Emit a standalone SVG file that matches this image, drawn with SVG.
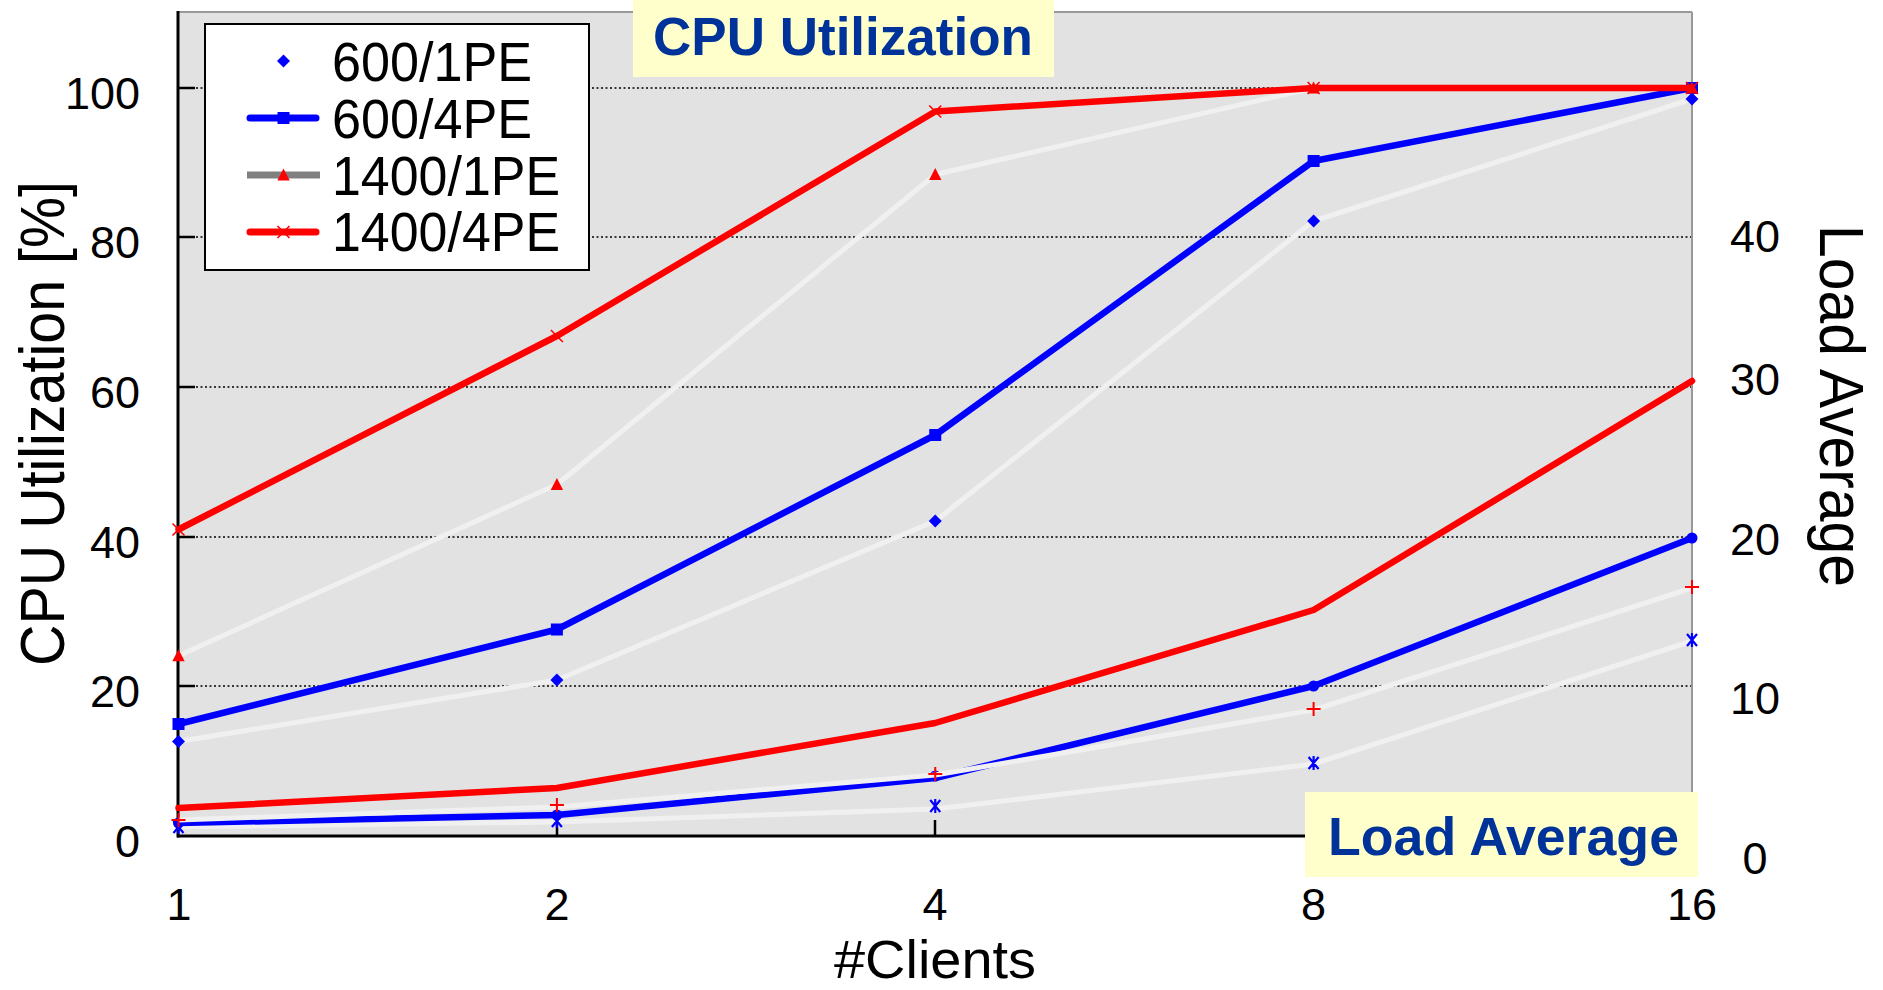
<svg xmlns="http://www.w3.org/2000/svg" width="1883" height="990" viewBox="0 0 1883 990">
  <style>
    .grid { stroke: #000; stroke-width: 1.5; stroke-dasharray: 2 2.5; fill: none; }
    .tick { stroke: #000; stroke-width: 2.5; }
    .light { fill: none; stroke: #f0f0f0; stroke-width: 5; stroke-linejoin: round; }
    .blue { fill: none; stroke: #0000ff; stroke-width: 6.5; stroke-linejoin: round; stroke-linecap: round; }
    .red { fill: none; stroke: #ff0000; stroke-width: 6.5; stroke-linejoin: round; stroke-linecap: round; }
    .num { font-family: "Liberation Sans", Arial, sans-serif; font-size: 45px; fill: #000; }
    .axt { font-family: "Liberation Sans", Arial, sans-serif; fill: #000; }
    .leg { font-family: "Liberation Sans", Arial, sans-serif; font-size: 55px; fill: #000; }
    .ttl { font-family: "Liberation Sans", Arial, sans-serif; font-size: 53px; font-weight: bold; fill: #003399; }
    .tbox { fill: #ffffcc; }
  </style>
  <defs>
    <path id="diamond" d="M0,-6.5 L6.5,0 L0,6.5 L-6.5,0 Z" fill="#0000ff"/>
    <rect id="square" x="-6" y="-6" width="12" height="12" fill="#0000ff"/>
    <path id="tri" d="M0,-6.5 L6.2,5.5 L-6.2,5.5 Z" fill="#ff0000"/>
    <path id="xthin" d="M-6,-6 L6,6 M6,-6 L-6,6" stroke="#ff0000" stroke-width="1.6" fill="none"/>
    <path id="plus" d="M-7,0 H7 M0,-7 V7" stroke="#ff0000" stroke-width="2" fill="none"/>
    <path id="astx" d="M-5,-6 L5,6 M5,-6 L-5,6 M0,-7 V-2 M0,2 V7" stroke="#0000ff" stroke-width="2.2" fill="none"/>
    <circle id="dot" r="5.5" fill="#0000ff"/>
  </defs>

  <rect width="1883" height="990" fill="#ffffff"/>

  <!-- plot area -->
  <g id="plot-area">
    <rect x="178" y="12" width="1514" height="824" fill="#e2e2e2"/>
    <g id="gridlines">
      <line class="grid" x1="178" y1="88" x2="1692" y2="88"/>
      <line class="grid" x1="178" y1="237" x2="1692" y2="237"/>
      <line class="grid" x1="178" y1="387" x2="1692" y2="387"/>
      <line class="grid" x1="178" y1="537" x2="1692" y2="537"/>
      <line class="grid" x1="178" y1="686" x2="1692" y2="686"/>
    </g>
    <g id="axes">
      <line x1="178" y1="12" x2="1692" y2="12" stroke="#999" stroke-width="2"/>
      <line x1="1692" y1="12" x2="1692" y2="836" stroke="#999" stroke-width="2"/>
      <line x1="178" y1="11" x2="178" y2="837.5" stroke="#000" stroke-width="3"/>
      <line x1="177" y1="836" x2="1692" y2="836" stroke="#000" stroke-width="3"/>
      <line class="tick" x1="178" y1="88" x2="195" y2="88"/>
      <line class="tick" x1="178" y1="237" x2="195" y2="237"/>
      <line class="tick" x1="178" y1="387" x2="195" y2="387"/>
      <line class="tick" x1="178" y1="537" x2="195" y2="537"/>
      <line class="tick" x1="178" y1="686" x2="195" y2="686"/>
      <line class="tick" x1="557" y1="820" x2="557" y2="836"/>
      <line class="tick" x1="935" y1="820" x2="935" y2="836"/>
      <line class="tick" x1="1313.6" y1="820" x2="1313.6" y2="836"/>
    </g>
  </g>

  <!-- series: CPU utilization -->
  <g id="connectors">
    <g id="cpu-600-1pe">
      <polyline class="light" points="178.5,741.5 556.9,680 935.25,521 1313.6,221 1692,99"/>
      <use href="#diamond" x="178.5" y="741.5"/>
      <use href="#diamond" x="556.9" y="680"/>
      <use href="#diamond" x="935.25" y="521"/>
      <use href="#diamond" x="1313.6" y="221"/>
      <use href="#diamond" x="1692" y="99"/>
    </g>
    <g id="cpu-600-4pe">
      <polyline class="blue" points="178.5,724 556.9,629.5 935.25,435 1313.6,161 1692,88"/>
      <use href="#square" x="178.5" y="724"/>
      <use href="#square" x="556.9" y="629.5"/>
      <use href="#square" x="935.25" y="435"/>
      <use href="#square" x="1313.6" y="161"/>
      <use href="#square" x="1692" y="88"/>
    </g>
    <g id="cpu-1400-1pe">
      <polyline class="light" points="178.5,655.7 556.9,484.5 935.25,174.5 1313.6,88 1692,88"/>
      <use href="#tri" x="178.5" y="655.7"/>
      <use href="#tri" x="556.9" y="484.5"/>
      <use href="#tri" x="935.25" y="174.5"/>
      <use href="#tri" x="1313.6" y="88"/>
      <use href="#tri" x="1692" y="88"/>
    </g>
    <g id="cpu-1400-4pe">
      <polyline class="red" points="178.5,529.5 556.9,336 935.25,111.5 1313.6,88 1692,88"/>
      <use href="#xthin" x="178.5" y="529.5"/>
      <use href="#xthin" x="556.9" y="336"/>
      <use href="#xthin" x="935.25" y="111.5"/>
      <use href="#xthin" x="1313.6" y="88"/>
      <use href="#xthin" x="1692" y="88"/>
    </g>

    <!-- series: load average -->
    <g id="load-600-1pe">
      <polyline class="light" points="178.5,827 556.9,822 935.25,809 1313.6,764 1692,641"/>
      <use href="#astx" x="178.5" y="827"/>
      <use href="#astx" x="556.9" y="821"/>
      <use href="#astx" x="935.25" y="806"/>
      <use href="#astx" x="1313.6" y="763"/>
      <use href="#astx" x="1692" y="640"/>
    </g>
    <g id="load-600-4pe">
      <polyline class="blue" points="178.5,823 556.9,815 935.25,778 1313.6,686 1692,538"/>
      <use href="#dot" x="178.5" y="823"/>
      <use href="#dot" x="556.9" y="815"/>
      <use href="#dot" x="935.25" y="776"/>
      <use href="#dot" x="1313.6" y="686"/>
      <use href="#dot" x="1692" y="538"/>
    </g>
    <g id="load-1400-1pe">
      <polyline class="light" points="178.5,820 556.9,807 935.25,775 1313.6,710 1692,588"/>
      <use href="#plus" x="178.5" y="820"/>
      <use href="#plus" x="556.9" y="805"/>
      <use href="#plus" x="935.25" y="774"/>
      <use href="#plus" x="1313.6" y="709"/>
      <use href="#plus" x="1692" y="587"/>
    </g>
    <g id="load-1400-4pe">
      <polyline class="red" points="178.5,808 556.9,788 935.25,723 1313.6,610 1692,381"/>
    </g>
  </g>

  <!-- legend -->
  <g id="legend">
    <rect x="205" y="24" width="384" height="246" fill="#ffffff" stroke="#000" stroke-width="2"/>
    <use href="#diamond" x="283.5" y="61"/>
    <line x1="250" y1="118" x2="316" y2="118" stroke="#0000ff" stroke-width="7" stroke-linecap="round"/>
    <use href="#square" x="283.5" y="118"/>
    <line x1="247" y1="175" x2="320" y2="175" stroke="#808080" stroke-width="7"/>
    <use href="#tri" x="283.5" y="175"/>
    <line x1="250" y1="232" x2="316" y2="232" stroke="#ff0000" stroke-width="7" stroke-linecap="round"/>
    <use href="#xthin" x="283.5" y="232"/>
    <text class="leg" x="332" y="81" textLength="200" lengthAdjust="spacingAndGlyphs">600/1PE</text>
    <text class="leg" x="332" y="138" textLength="200" lengthAdjust="spacingAndGlyphs">600/4PE</text>
    <text class="leg" x="332" y="194.5" textLength="228" lengthAdjust="spacingAndGlyphs">1400/1PE</text>
    <text class="leg" x="332" y="251" textLength="228" lengthAdjust="spacingAndGlyphs">1400/4PE</text>
  </g>

  <!-- titles -->
  <g id="title-cpu">
    <rect class="tbox" x="633" y="0" width="421" height="77"/>
    <text class="ttl" x="653" y="55" textLength="380" lengthAdjust="spacingAndGlyphs">CPU Utilization</text>
  </g>
  <g id="title-load">
    <rect class="tbox" x="1305" y="792" width="393" height="85"/>
    <text class="ttl" x="1328" y="855" textLength="351" lengthAdjust="spacingAndGlyphs">Load Average</text>
  </g>

  <!-- left axis labels -->
  <g id="left-axis-labels" text-anchor="end">
    <text class="num" x="140" y="108.5">100</text>
    <text class="num" x="140" y="257.5">80</text>
    <text class="num" x="140" y="407.5">60</text>
    <text class="num" x="140" y="557.5">40</text>
    <text class="num" x="140" y="706.5">20</text>
    <text class="num" x="140" y="856.5">0</text>
  </g>
  <!-- right axis labels -->
  <g id="right-axis-labels" text-anchor="middle">
    <text class="num" x="1755" y="251.5">40</text>
    <text class="num" x="1755" y="395">30</text>
    <text class="num" x="1755" y="555">20</text>
    <text class="num" x="1755" y="714">10</text>
    <text class="num" x="1755" y="874">0</text>
  </g>
  <!-- x axis labels -->
  <g id="x-axis-labels" text-anchor="middle">
    <text class="num" x="179" y="920">1</text>
    <text class="num" x="557" y="920">2</text>
    <text class="num" x="935" y="920">4</text>
    <text class="num" x="1313.6" y="920">8</text>
    <text class="num" x="1692" y="920">16</text>
  </g>

  <!-- axis titles -->
  <text id="y-title" class="axt" font-size="63" text-anchor="middle" transform="translate(64,423.5) rotate(-90)" textLength="485" lengthAdjust="spacingAndGlyphs">CPU Utilization [%]</text>
  <text id="y2-title" class="axt" font-size="63" text-anchor="middle" transform="translate(1820,406) rotate(90)" textLength="362" lengthAdjust="spacingAndGlyphs">Load Average</text>
  <text id="x-title" class="axt" font-size="53" text-anchor="middle" x="935" y="978" textLength="202" lengthAdjust="spacingAndGlyphs">#Clients</text>
</svg>
